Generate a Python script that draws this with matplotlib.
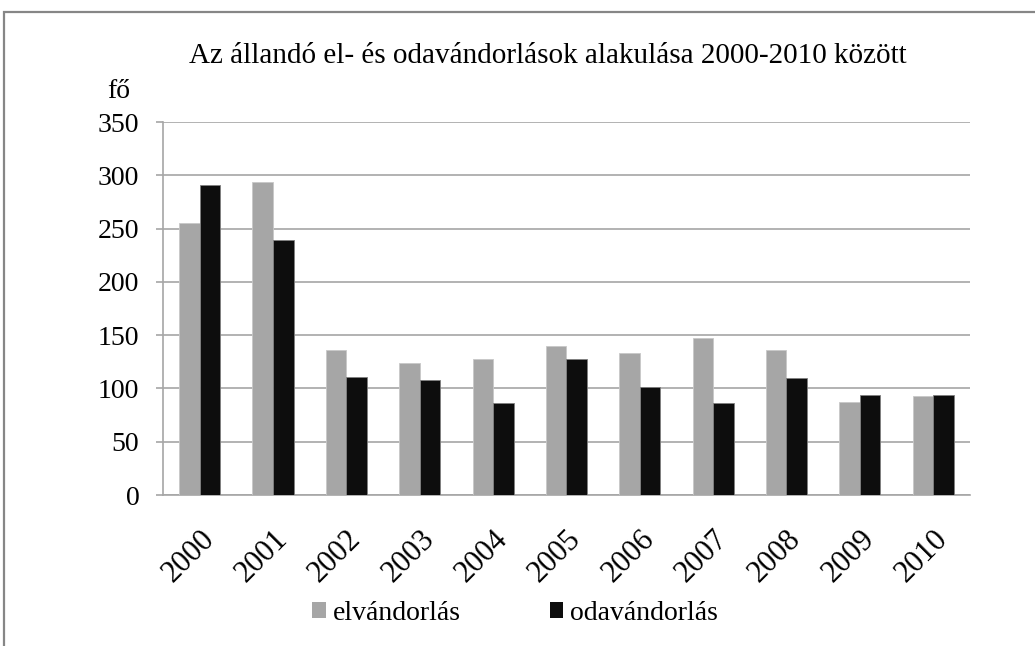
import matplotlib
matplotlib.use('Agg')
import matplotlib.pyplot as plt
from matplotlib.patches import Rectangle, Patch
import numpy as np

years = ['2000', '2001', '2002', '2003', '2004', '2005', '2006', '2007', '2008', '2009', '2010']
elvandorlas = [255, 294, 136, 124, 128, 140, 133, 147, 136, 87, 93]
odavandorlas = [291, 239, 111, 108, 86, 128, 101, 86, 110, 94, 94]

plt.rcParams['font.family'] = ['Liberation Serif', 'DejaVu Serif']

gray = '#a6a6a6'
black = '#0d0d0d'
gridc = '#a6a6a6'

fig = plt.figure(figsize=(10.35, 6.46), dpi=100)
ax = fig.add_axes([0.1575, 0.2337, 0.937 - 0.1575, 0.8111 - 0.2337])

# chart frame (right and bottom edges run off the picture)
fig.patches.append(Rectangle((4 / 1035, -0.05), 1.1, 1.05 - 12 / 646,
                             transform=fig.transFigure, fill=False,
                             edgecolor='#868686', linewidth=1.6))

x = np.arange(len(years))
w = 0.28
ax.bar(x - w / 2, elvandorlas, w, color=gray, edgecolor='#c8c8c8', linewidth=0.6, zorder=3)
ax.bar(x + w / 2, odavandorlas, w, color=black, edgecolor='#808080', linewidth=0.6, zorder=3)

ax.set_xlim(-0.5, len(years) - 0.5)
ax.set_ylim(0, 350)
ax.set_yticks(range(0, 351, 50))
ax.yaxis.grid(True, color=gridc, linewidth=1.2)
ax.set_axisbelow(True)

for s in ['top', 'right']:
    ax.spines[s].set_visible(False)
ax.spines['left'].set_color(gridc)
ax.spines['bottom'].set_color(gridc)
ax.spines['left'].set_linewidth(1.2)
ax.spines['bottom'].set_linewidth(1.2)

ax.tick_params(axis='y', length=5, width=1.2, color=gridc, labelsize=20, pad=12)
ax.tick_params(axis='x', length=0, labelsize=22, pad=21)
ax.set_xticks(x)
ax.set_xticklabels(years, rotation=45, ha='right', va='top', rotation_mode='anchor')

fig.text(0.5295, 1 - 63 / 646, 'Az állandó el- és odavándorlások alakulása 2000-2010 között',
         ha='center', va='baseline', fontsize=21)
fig.text(118.5 / 1035, 1 - 98 / 646, 'fő', ha='center', va='baseline', fontsize=20)

handles = [Patch(facecolor=gray, edgecolor='none', label='elvándorlás'),
           Patch(facecolor=black, edgecolor='none', label='odavándorlás')]
fig.legend(handles=handles, loc='center', bbox_to_anchor=(515 / 1035, 1 - 613.5 / 646), ncol=2,
           frameon=False, fontsize=20, handlelength=0.5, handleheight=0.5,
           handletextpad=0.25, columnspacing=3.2, borderpad=0)

fig.savefig('out.png', dpi=100)
